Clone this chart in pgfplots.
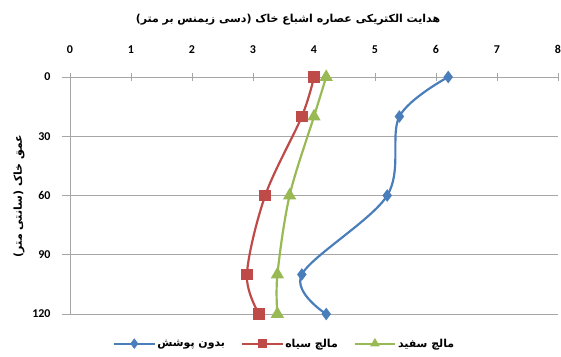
\documentclass[border=0pt]{standalone}
\usepackage{fontspec}
\setmainfont{Carlito}
\newfontfamily\arabicfont[Script=Arabic]{DejaVu Sans}
\TeXXeTstate=1
\usepackage{pgfplots}
\pgfplotsset{compat=1.18}

\definecolor{exBlue}{HTML}{4A7EBB}
\definecolor{exRed}{HTML}{BE4B48}
\definecolor{exGreen}{HTML}{98B954}
\definecolor{gridGray}{HTML}{A6A6A6}

% EC of saturated soil extract (dS/m) by soil depth (cm)
\pgfplotstableread{
ec   depth
6.2  0
5.4  20
5.2  60
3.8  100
4.2  120
}\bare
\pgfplotstableread{
ec   depth
4.0  0
3.8  20
3.2  60
2.9  100
3.1  120
}\blackmulch
\pgfplotstableread{
ec   depth
4.2  0
4.0  20
3.6  60
3.4  100
3.4  120
}\whitemulch

\begin{document}
\begin{tikzpicture}[x=1bp,y=1bp]
\path[use as bounding box] (-70,-42) rectangle (491,314);
\begin{axis}[
  at={(0,0)}, anchor=south west,
  scale only axis, width=488bp, height=237bp,
  xmin=0, xmax=8, ymin=0, ymax=120,
  y dir=reverse,
  axis line style={draw=none},
  xtick={0,1,...,8}, ytick={0,30,...,120},
  xtick pos=right, xticklabel pos=right,
  ytick pos=left,
  xtick align=center, ytick align=outside,
  major tick length=8bp,
  tick style={gridGray, line width=0.8pt},
  ymajorgrids, grid style={gridGray, line width=0.8pt},
  /pgf/number format/assume math mode=true,
  xticklabel style={font=\fontsize{12}{14}\selectfont\bfseries, yshift=16bp},
  yticklabel style={font=\fontsize{12}{14}\selectfont\bfseries, xshift=-8bp},
  legend style={at={(axis description cs:0.44,-0.125)}, anchor=center,
    draw=none, fill=none, font=\fontsize{11}{13}\selectfont,
    /tikz/every even column/.append style={column sep=14bp}},
  legend columns=3,
  legend image code/.code={\draw[mark repeat=2,mark phase=2, mark size=3.5bp]
    plot coordinates {(0bp,0bp)(20bp,0bp)(40bp,0bp)};},
  every axis plot/.append style={line width=2.2pt, smooth, tension=0.55},
]
\draw[gridGray, line width=0.8pt] (axis cs:0,0) -- (axis cs:0,120);
\addplot[exBlue, mark=diamond*, mark size=4.5bp] table[x=ec,y=depth] {\bare};
\addlegendentry{\arabicfont\bfseries\beginR بدون پوشش\endR}
\addplot[exRed, mark=square*, mark size=4.8bp] table[x=ec,y=depth] {\blackmulch};
\addlegendentry{\arabicfont\bfseries\beginR مالچ سیاه\endR}
\addplot[exGreen, mark=triangle*, mark size=5.5bp] table[x=ec,y=depth] {\whitemulch};
\addlegendentry{\arabicfont\bfseries\beginR مالچ سفید\endR}
\end{axis}
\node at (218,294) {\arabicfont\bfseries\fontsize{11}{13}\selectfont\beginR هدایت الکتریکی عصاره اشباع خاک (دسی زیمنس بر متر)\endR};
\node[rotate=90] at (-51,118) {\arabicfont\bfseries\fontsize{11}{13}\selectfont\beginR عمق خاک (سانتی متر)\endR};
\end{tikzpicture}
\end{document}
